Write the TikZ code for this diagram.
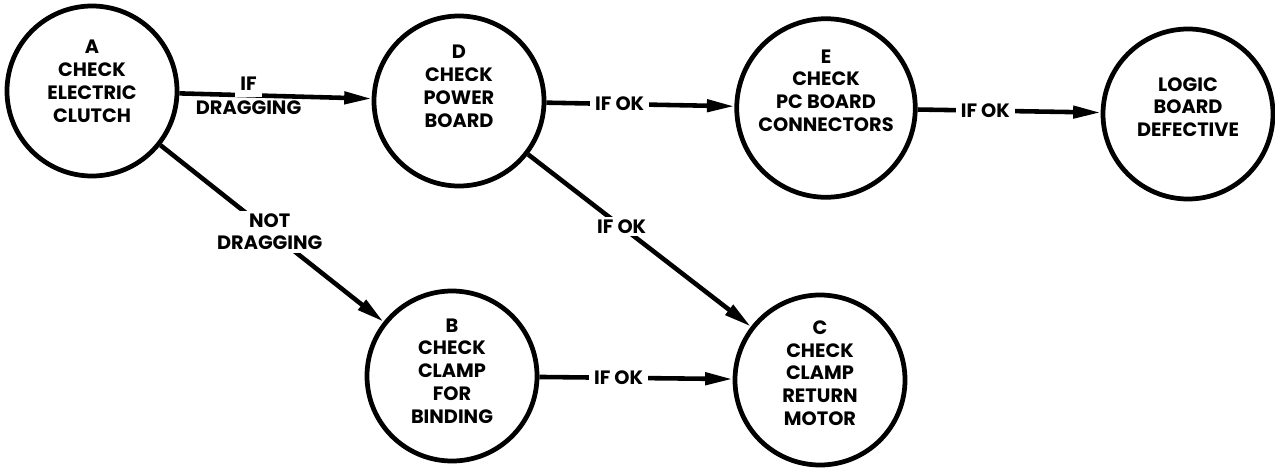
\documentclass[tikz,border=0pt]{standalone}
\usepackage{fontspec}
\setmainfont{Poppins}
\usetikzlibrary{arrows.meta, positioning}

\tikzset{
  state/.style={circle, draw, line width=2.7pt, minimum size=3.4cm, inner sep=0pt, align=center, font=\bfseries\fontsize{11}{13}\selectfont},
  lift/.style={text depth=#1},
  conn/.style={line width=2.6pt, -{Triangle[length=0.55cm, width=0.24cm]}},
  cut/.style={fill=white, inner xsep=0.1cm, inner ysep=0.05cm, align=center, font=\bfseries\fontsize{11}{13}\selectfont},
  tag/.style={inner sep=0pt, font=\bfseries\fontsize{11}{13}\selectfont}
}

\begin{document}
\begin{tikzpicture}
\useasboundingbox (0,0) rectangle (25.5,9.34);
% top row
\node[state, lift=0.4cm] (A) at (1.84,7.52) {A\\CHECK\\ELECTRIC\\CLUTCH};
\node[state, lift=0.6cm] (D) at (9.18,7.32) {D\\CHECK\\POWER\\BOARD};
\node[state, lift=0.7cm] (E) at (16.52,7.18) {E\\CHECK\\PC BOARD\\CONNECTORS};
\node[state, lift=0.28cm] (L) at (23.76,7.06) {LOGIC\\BOARD\\DEFECTIVE};
% bottom row
\node[state, lift=0.2cm] (B) at (9.04,1.82) {B\\CHECK\\CLAMP\\FOR\\BINDING};
\node[state, lift=0.28cm] (C) at (16.40,1.74) {C\\CHECK\\CLAMP\\RETURN\\MOTOR};
% connectors
\draw[conn] (A) -- (D)
  node[pos=0.36, cut, anchor=south, inner ysep=0.12cm, yshift=-0.08cm] {IF}
  node[pos=0.36, tag, anchor=north, yshift=-0.07cm] {DRAGGING};
\draw[conn] (D) -- (E) node[pos=0.39, cut] {IF OK};
\draw[conn] (E) -- (L) node[pos=0.37, cut] {IF OK};
\draw[conn] (A) -- (B) node[pos=0.49, cut] {NOT\\DRAGGING};
\draw[conn] (D) -- (C) node[pos=0.42, cut] {IF OK};
\draw[conn] (B) -- (C) node[pos=0.41, cut] {IF OK};
\end{tikzpicture}
\end{document}
